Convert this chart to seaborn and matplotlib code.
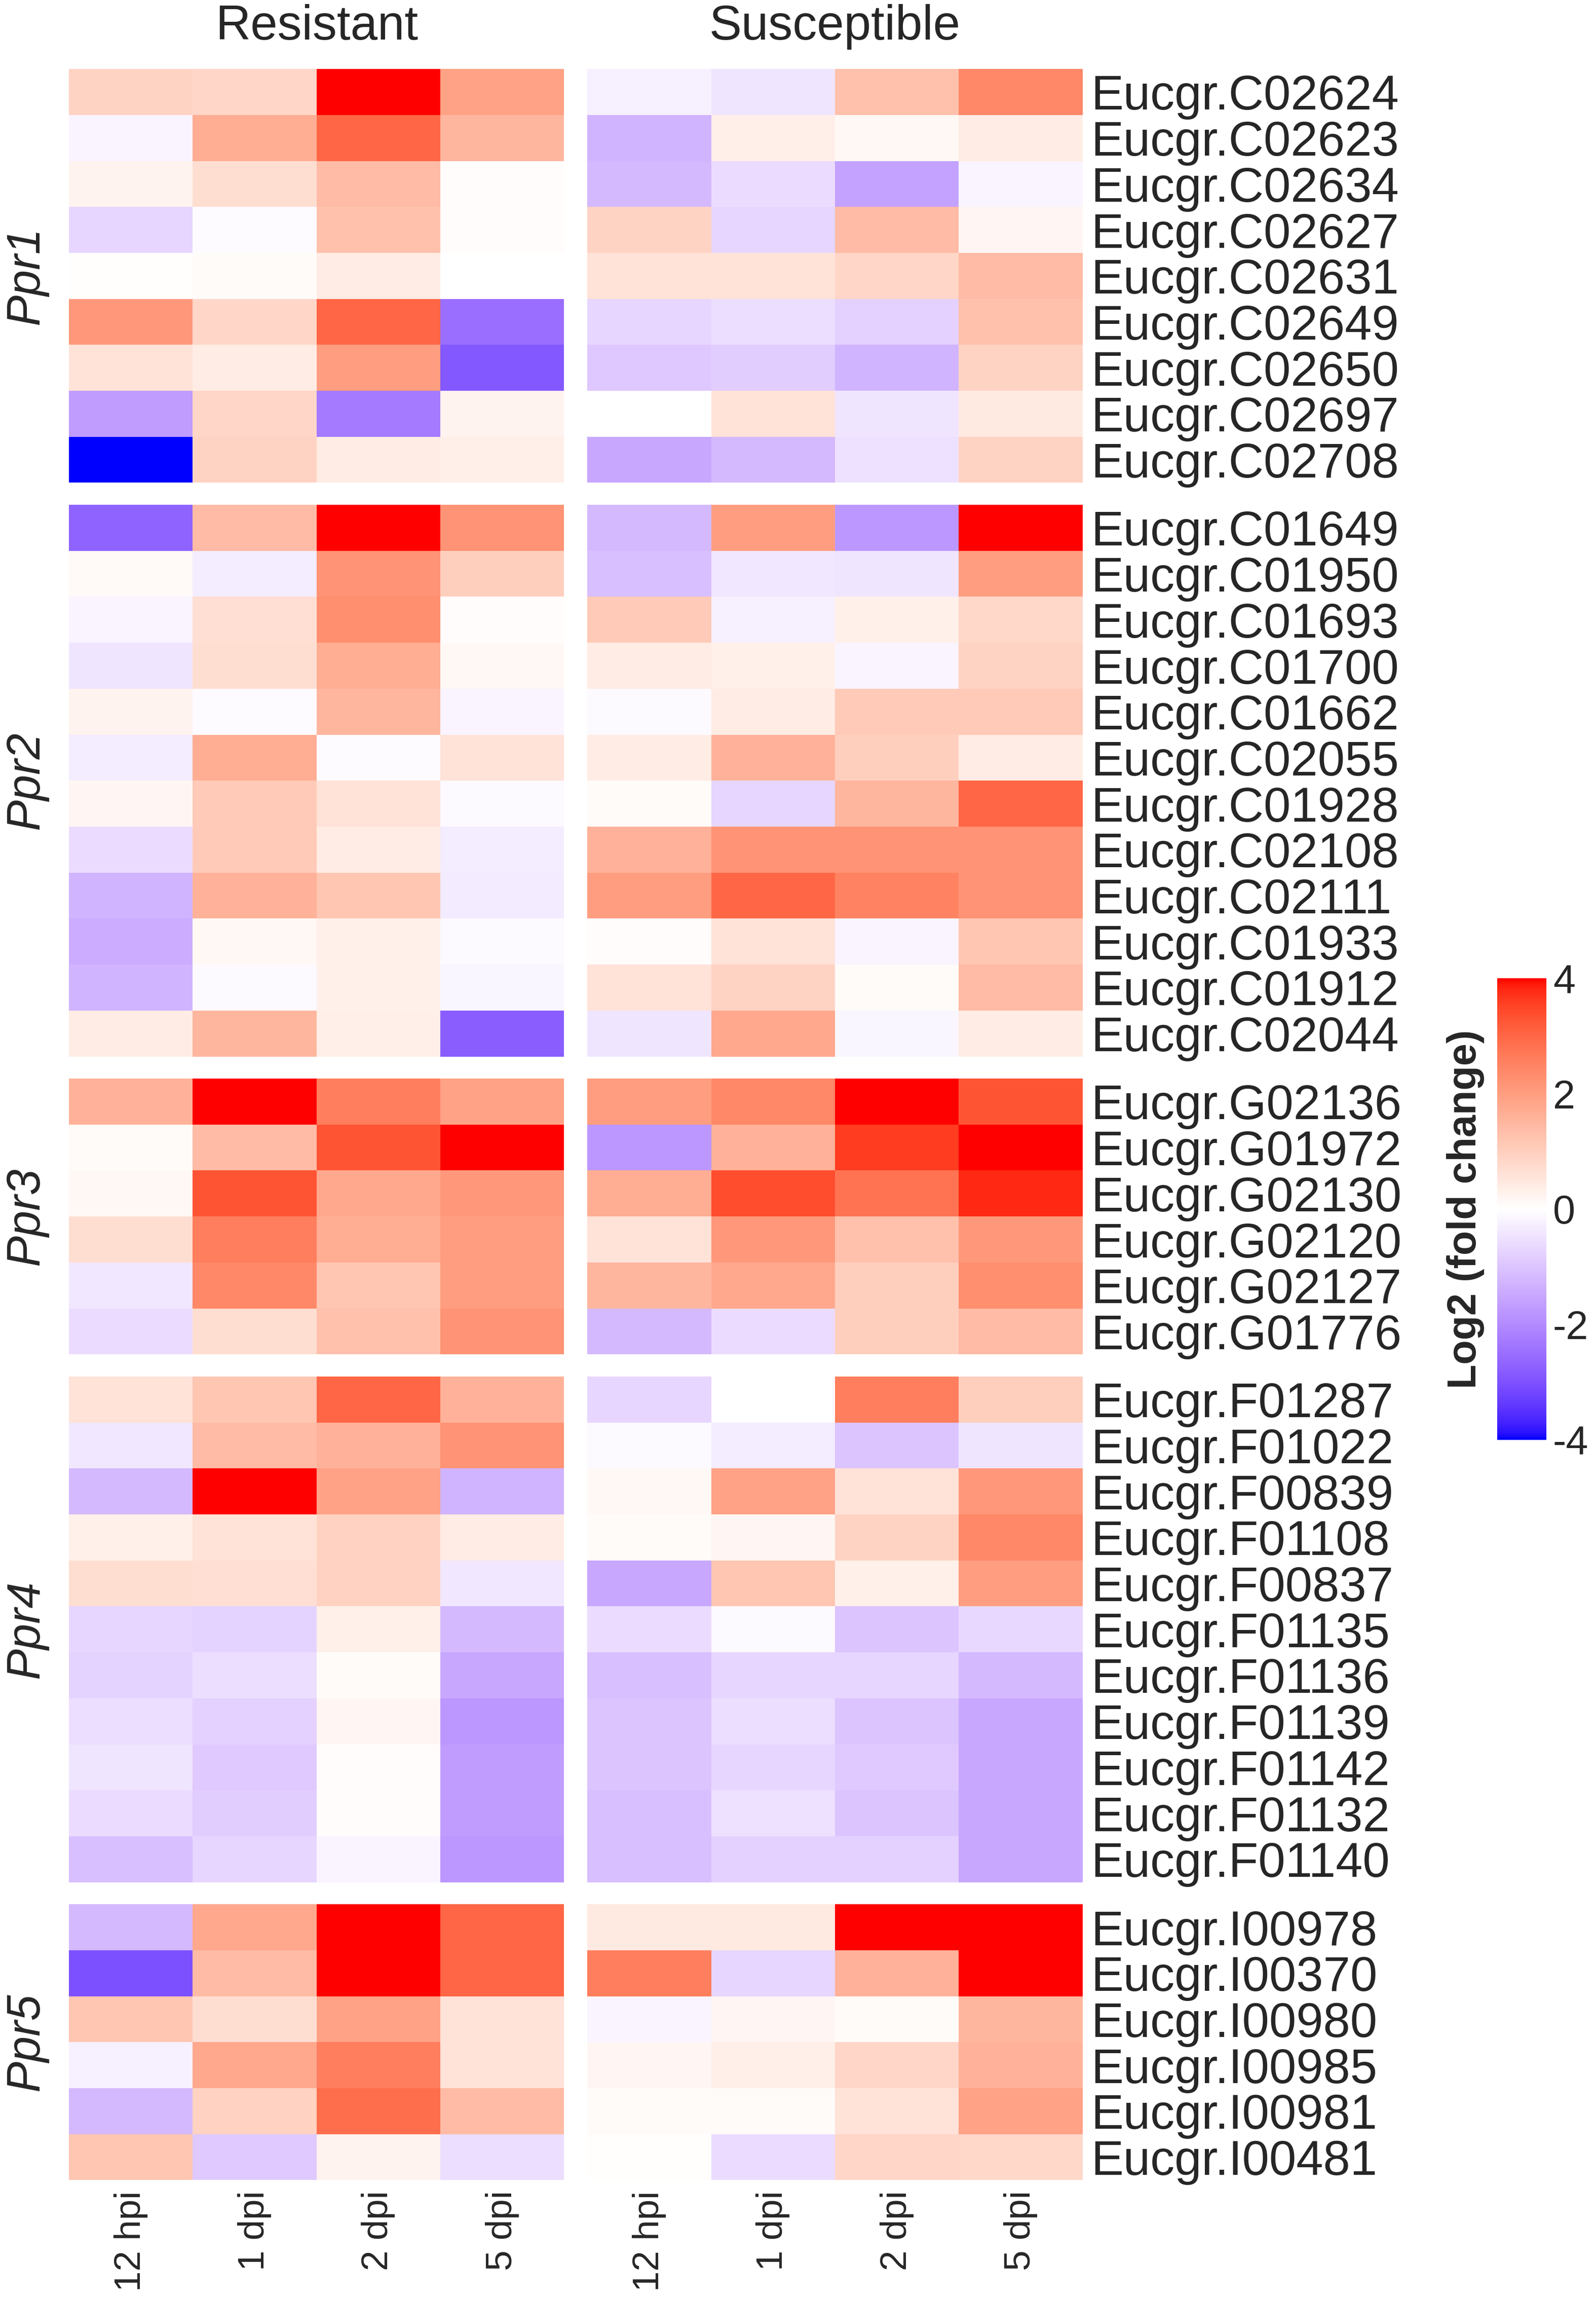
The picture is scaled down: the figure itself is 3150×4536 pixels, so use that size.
import numpy as np
import pandas as pd
import matplotlib
matplotlib.use("Agg")
import matplotlib.pyplot as plt
from matplotlib import transforms
from matplotlib.colors import ListedColormap
import seaborn as sns

# columnas y paneles
times = ["12 hpi", "1 dpi", "2 dpi", "5 dpi"]
conditions = ["Resistant", "Susceptible"]
group_names = ["Ppr1", "Ppr2", "Ppr3", "Ppr4", "Ppr5"]
cbar_ticks = [-4, -2, 0, 2, 4]
cbar_labels = ["-4", "-2", "0", "2", "4"]

# Ppr1
ppr1_genes = ["Eucgr.C02624", "Eucgr.C02623", "Eucgr.C02634", "Eucgr.C02627", "Eucgr.C02631",
              "Eucgr.C02649", "Eucgr.C02650", "Eucgr.C02697", "Eucgr.C02708"]
ppr1_res = [[0.9, 0.85, 4.0, 1.9],
            [-0.2, 1.7, 3.0, 1.5],
            [0.25, 0.7, 1.4, 0.05],
            [-0.7, -0.05, 1.3, 0.05],
            [0.02, 0.08, 0.4, 0.0],
            [2.1, 0.85, 3.0, -2.5],
            [0.6, 0.4, 2.0, -2.9],
            [-1.7, 0.85, -2.3, 0.25],
            [-4.0, 0.9, 0.4, 0.35]]
ppr1_sus = [[-0.25, -0.45, 1.3, 2.4],
            [-1.3, 0.35, 0.15, 0.4],
            [-1.2, -0.6, -1.6, -0.2],
            [0.9, -0.7, 1.4, 0.2],
            [0.6, 0.6, 0.85, 1.4],
            [-0.7, -0.55, -0.8, 1.3],
            [-0.95, -0.85, -1.3, 0.9],
            [0.0, 0.6, -0.45, 0.45],
            [-1.5, -1.2, -0.5, 0.9]]

# Ppr2
ppr2_genes = ["Eucgr.C01649", "Eucgr.C01950", "Eucgr.C01693", "Eucgr.C01700", "Eucgr.C01662",
              "Eucgr.C02055", "Eucgr.C01928", "Eucgr.C02108", "Eucgr.C02111", "Eucgr.C01933",
              "Eucgr.C01912", "Eucgr.C02044"]
ppr2_res = [[-2.7, 1.4, 4.0, 2.2],
            [0.12, -0.3, 2.2, 1.0],
            [-0.2, 0.65, 2.3, 0.05],
            [-0.45, 0.7, 1.7, 0.15],
            [0.25, -0.05, 1.5, -0.2],
            [-0.3, 1.7, -0.05, 0.6],
            [0.2, 1.1, 0.6, -0.1],
            [-0.6, 1.1, 0.4, -0.3],
            [-1.3, 1.6, 1.2, -0.35],
            [-1.4, 0.15, 0.3, -0.1],
            [-1.3, -0.1, 0.3, -0.15],
            [0.4, 1.5, 0.35, -2.8]]
ppr2_sus = [[-1.2, 2.0, -1.8, 4.0],
            [-1.1, -0.4, -0.45, 2.0],
            [1.1, -0.25, 0.3, 0.8],
            [0.4, 0.3, -0.2, 0.9],
            [-0.1, 0.4, 1.1, 1.1],
            [0.4, 1.6, 1.0, 0.4],
            [0.08, -0.7, 1.5, 3.0],
            [1.6, 2.2, 2.2, 2.2],
            [2.0, 3.0, 2.5, 2.2],
            [0.05, 0.6, -0.2, 1.2],
            [0.6, 0.9, 0.1, 1.4],
            [-0.45, 1.8, -0.15, 0.4]]

# Ppr3
ppr3_genes = ["Eucgr.G02136", "Eucgr.G01972", "Eucgr.G02130", "Eucgr.G02120", "Eucgr.G02127",
              "Eucgr.G01776"]
ppr3_res = [[1.6, 4.0, 2.6, 1.9],
            [0.08, 1.4, 3.3, 4.0],
            [0.15, 3.3, 1.8, 2.1],
            [0.7, 2.6, 1.7, 2.0],
            [-0.4, 2.4, 1.2, 2.0],
            [-0.6, 0.7, 1.3, 2.2]]
ppr3_sus = [[2.0, 2.4, 4.0, 3.3],
            [-1.8, 1.6, 3.6, 4.0],
            [1.7, 3.4, 2.8, 3.8],
            [0.6, 2.1, 1.3, 2.1],
            [1.5, 1.8, 1.0, 2.3],
            [-1.2, -0.6, 1.0, 1.4]]

# Ppr4
ppr4_genes = ["Eucgr.F01287", "Eucgr.F01022", "Eucgr.F00839", "Eucgr.F01108", "Eucgr.F00837",
              "Eucgr.F01135", "Eucgr.F01136", "Eucgr.F01139", "Eucgr.F01142", "Eucgr.F01132",
              "Eucgr.F01140"]
ppr4_res = [[0.6, 1.2, 3.0, 1.6],
            [-0.4, 1.4, 1.6, 2.2],
            [-1.2, 4.0, 1.9, -1.3],
            [0.3, 0.6, 0.95, 0.4],
            [0.7, 0.65, 0.95, -0.4],
            [-0.7, -0.75, 0.3, -1.2],
            [-0.75, -0.55, 0.1, -1.5],
            [-0.55, -0.8, 0.2, -1.8],
            [-0.45, -0.9, 0.05, -1.7],
            [-0.6, -0.85, 0.05, -1.7],
            [-1.1, -0.7, -0.2, -1.8]]
ppr4_sus = [[-0.7, 0.0, 2.6, 1.0],
            [-0.1, -0.3, -1.0, -0.45],
            [0.15, 1.9, 0.6, 2.1],
            [0.1, 0.2, 0.9, 2.4],
            [-1.5, 1.2, 0.3, 2.0],
            [-0.6, -0.1, -1.0, -0.65],
            [-1.1, -0.7, -0.7, -1.2],
            [-1.0, -0.55, -1.0, -1.5],
            [-1.0, -0.7, -0.9, -1.5],
            [-1.1, -0.5, -1.0, -1.5],
            [-1.1, -0.8, -0.8, -1.5]]

# Ppr5
ppr5_genes = ["Eucgr.I00978", "Eucgr.I00370", "Eucgr.I00980", "Eucgr.I00985", "Eucgr.I00981",
              "Eucgr.I00481"]
ppr5_res = [[-1.2, 1.8, 4.0, 3.0],
            [-3.0, 1.4, 4.0, 3.0],
            [1.2, 0.7, 1.9, 0.6],
            [-0.25, 1.8, 2.6, 0.6],
            [-1.2, 0.95, 2.9, 1.4],
            [1.2, -0.9, 0.25, -0.55]]
ppr5_sus = [[0.45, 0.45, 4.0, 4.0],
            [2.6, -0.7, 1.6, 4.0],
            [-0.2, 0.2, 0.1, 1.5],
            [0.2, 0.35, 0.85, 1.6],
            [0.1, 0.1, 0.6, 1.9],
            [0.02, -0.6, 0.85, 0.8]]

groups = [
    (ppr1_genes, ppr1_res, ppr1_sus),
    (ppr2_genes, ppr2_res, ppr2_sus),
    (ppr3_genes, ppr3_res, ppr3_sus),
    (ppr4_genes, ppr4_res, ppr4_sus),
    (ppr5_genes, ppr5_res, ppr5_sus),
]


# escala azul-blanco-rojo interpolada en Lab (como scale_fill_gradient2)
def srgb_to_lab(rgb):
    rgb = np.asarray(rgb, dtype=float)
    lin = np.where(rgb <= 0.04045, rgb / 12.92, ((rgb + 0.055) / 1.055) ** 2.4)
    m = np.array([[0.4124, 0.3576, 0.1805],
                  [0.2126, 0.7152, 0.0722],
                  [0.0193, 0.1192, 0.9505]])
    xyz = lin @ m.T / np.array([0.95047, 1.0, 1.08883])
    d = 6 / 29
    f = np.where(xyz > d ** 3, np.cbrt(xyz), xyz / (3 * d ** 2) + 4 / 29)
    return np.stack([116 * f[..., 1] - 16,
                     500 * (f[..., 0] - f[..., 1]),
                     200 * (f[..., 1] - f[..., 2])], axis=-1)


def lab_to_srgb(lab):
    lab = np.asarray(lab, dtype=float)
    fy = (lab[..., 0] + 16) / 116
    fx = fy + lab[..., 1] / 500
    fz = fy - lab[..., 2] / 200
    f = np.stack([fx, fy, fz], axis=-1)
    d = 6 / 29
    xyz = np.where(f > d, f ** 3, 3 * d ** 2 * (f - 4 / 29)) * np.array([0.95047, 1.0, 1.08883])
    minv = np.array([[3.2406, -1.5372, -0.4986],
                     [-0.9689, 1.8758, 0.0415],
                     [0.0557, -0.2040, 1.0570]])
    lin = np.clip(xyz @ minv.T, 0, 1)
    rgb = np.where(lin <= 0.0031308, 12.92 * lin, 1.055 * lin ** (1 / 2.4) - 0.055)
    return np.clip(rgb, 0, 1)


lab_low = srgb_to_lab([0, 0, 1])
lab_mid = srgb_to_lab([1, 1, 1])
lab_high = srgb_to_lab([1, 0, 0])
t = np.linspace(0, 1, 128)[:, None]
neg = lab_to_srgb(lab_low + (lab_mid - lab_low) * t)
pos = lab_to_srgb(lab_mid + (lab_high - lab_mid) * t)
cmap = ListedColormap(np.vstack([neg, pos[1:]]))

sns.set_style("white")
plt.rcParams['font.family'] = ['Liberation Sans', 'DejaVu Sans']

fig = plt.figure(figsize=(10.5, 15.12))
gs = fig.add_gridspec(5, 2, left=0.0432, right=0.6783, top=0.970, bottom=0.0517,
                      height_ratios=[len(g[0]) for g in groups], hspace=0.0545, wspace=0.047)

mesh = None
for i, (genes, res, sus) in enumerate(groups):
    for j, vals in enumerate([res, sus]):
        ax = fig.add_subplot(gs[i, j])
        df = pd.DataFrame(vals, index=genes, columns=times)
        sns.heatmap(df, ax=ax, cmap=cmap, vmin=-4, vmax=4, cbar=False, linewidths=0)
        mesh = ax.collections[0]
        ax.set_xlabel('')
        ax.set_ylabel('')
        if j == 1:
            ax.yaxis.tick_right()
            ax.set_yticks(np.arange(len(genes)) + 0.5)
            ax.set_yticklabels(genes, rotation=0, fontsize=23)
            ax.tick_params(axis='y', length=0, pad=4)
        else:
            ax.set_yticks([])
            trans = transforms.blended_transform_factory(fig.transFigure, ax.transAxes)
            ax.text(0.0165, 0.5, group_names[i], transform=trans, rotation=90,
                    ha='center', va='center', style='italic', fontsize=22)
        if i == len(groups) - 1:
            ax.set_xticks(np.arange(len(times)) + 0.5)
            ax.set_xticklabels(times, rotation=90, fontsize=17.5)
            ax.tick_params(axis='x', length=0, pad=5)
        else:
            ax.set_xticks([])
        if i == 0:
            ax.set_title(conditions[j], fontsize=23, pad=14)

# leyenda de color
cax = fig.add_axes([0.938, 0.3737, 0.031, 0.2008])
cb = fig.colorbar(mesh, cax=cax, ticks=cbar_ticks)
cb.set_ticklabels(cbar_labels)
cb.outline.set_visible(False)
cax.tick_params(axis='y', which='major', direction='in', length=6, width=1.5,
                color='white', left=True, right=True, labelsize=19, pad=3)
cax.minorticks_off()
cax.yaxis.set_label_position('left')
cax.set_ylabel('Log2 (fold change)', fontweight='bold', fontsize=19, labelpad=6)

fig.savefig('out.png', dpi=300)
